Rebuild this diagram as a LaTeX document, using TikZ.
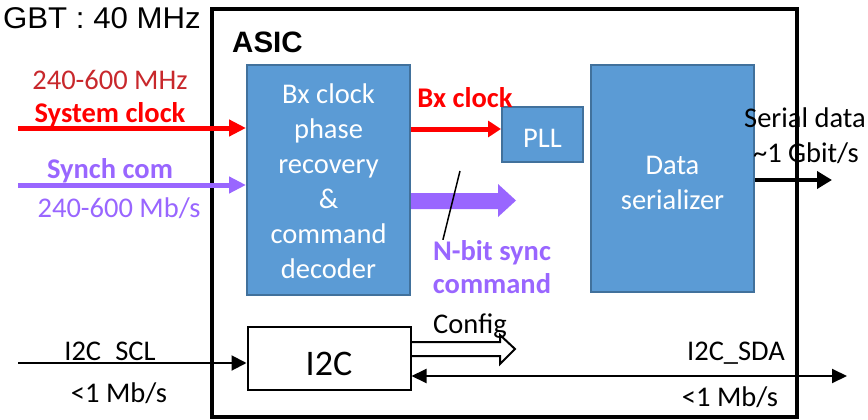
\documentclass[tikz,border=0pt]{standalone}
\usepackage{fontspec}
\setmainfont{Carlito}
\newfontfamily\arialfont{Liberation Sans}
\usetikzlibrary{arrows.meta}
\definecolor{blkfill}{HTML}{5B9BD5}
\definecolor{blkline}{HTML}{41719C}
\definecolor{sysred}{HTML}{FF0000}
\definecolor{darkred}{HTML}{C8282C}
\definecolor{purp}{HTML}{9966FF}
\begin{document}
\begin{tikzpicture}[x=1pt,y=-1pt,
  lbl/.style={inner sep=0pt, anchor=base, font=\fontsize{28.5}{34}\selectfont},
  lblb/.style={inner sep=0pt, anchor=base, font=\bfseries\fontsize{28.5}{34}\selectfont},
  blk/.style={draw=blkline, fill=blkfill, line width=2pt, inner sep=0pt},
  thickarr/.style={line width=5pt, -{Triangle[length=17pt,width=16pt]}},
  thinarr/.style={line width=2pt, -{Triangle[length=15pt,width=15pt]}},
]
\useasboundingbox (0,0) rectangle (868,420);
% ASIC frame
\node[draw, line width=4pt, minimum width=585pt, minimum height=408pt, inner sep=0pt] (asic) at (504.5,213) {};
% blocks
\node[blk, minimum width=163pt, minimum height=230pt] (rec) at (328.5,180) {};
\node[blk, minimum width=163pt, minimum height=227pt] (ser) at (672.5,178.5) {};
\node[blk, minimum width=81pt, minimum height=55pt] (pll) at (542.5,134.5) {};
\node[draw, line width=2pt, fill=white, minimum width=163pt, minimum height=63pt, inner sep=0pt] (i2c) at (329,358.5) {};
% block texts
\node[lbl, white] (rt1) at (328.5,103) {Bx clock};
\node[lbl, white] (rt2) at (328.5,138) {phase};
\node[lbl, white] (rt3) at (328.5,173) {recovery};
\node[lbl, white] (rt4) at (328.5,208) {\&};
\node[lbl, white] (rt5) at (328.5,243) {command};
\node[lbl, white] (rt6) at (328.5,278) {decoder};
\node[lbl, white] (sd1) at (672.5,174) {Data};
\node[lbl, white] (sd2) at (672.5,209) {serializer};
\node[lbl, white] (plltxt) at (pll.center |- 0,147) {PLL};
\node[inner sep=0pt, anchor=base, font=\fontsize{36}{40}\selectfont] (i2ct) at (329,375) {I2C};
% labels
\node[inner sep=0pt, anchor=base east, xscale=1.04, font=\arialfont\fontsize{30}{34}\selectfont] (gbt) at (201,28.5) {GBT : 40 MHz};
\node[inner sep=0pt, anchor=base west, font=\arialfont\bfseries\fontsize{29.5}{32}\selectfont] (asiclab) at (232,53) {ASIC};
\node[lbl, darkred] (f1) at (110,89) {240-600 MHz};
\node[lblb, sysred] (sclab) at (110,122) {System clock};
\node[lblb, purp] (synlab) at (110,178) {Synch com};
\node[lbl, purp] (f2) at (119,217) {240-600 Mb/s};
\node[lblb, sysred] (bxlab) at (465,107) {Bx clock};
\node[lblb, purp] (nb1) at (492,260) {N-bit sync};
\node[lblb, purp] (nb2) at (492,293) {command};
\node[lbl] (serl1) at (805,128) {Serial data};
\node[lbl] (serl2) at (806,162) {\char"7E 1 Gbit/s};
\node[lbl] (scl) at (110,360) {I2C\_SCL};
\node[lbl] (sclr) at (119,402) {<1 Mb/s};
\node[lbl] (sda) at (736,360) {I2C\_SDA};
\node[lbl] (sdar) at (730,406) {<1 Mb/s};
\node[lbl] (cfg) at (470,333) {Config};
% connectors
\coordinate (scin) at (18,128);
\draw[sysred, thickarr] (scin) -- (rec.west |- scin);
\coordinate (synin) at (18,185);
\draw[purp, thickarr] (synin) -- (rec.west |- synin);
\draw[sysred, line width=5pt, -{Triangle[length=13pt,width=16pt]}] (rec.east |- 0,129) -- (pll.west |- 0,129);
\fill[purp] (rec.east |- 0,193) -- (498,193) -- (498,184) -- (516,200.5) -- (498,217) -- (498,209) -- (rec.east |- 0,209) -- cycle;
\coordinate (callout) at (460,171);
\draw[line width=1.5pt] (callout) -- ([xshift=10pt]nb1.north west);
\coordinate (serout) at (832,180);
\draw[line width=4.5pt, -{Triangle[length=15pt,width=17pt]}] (ser.east |- serout) -- (serout);
\coordinate (sclin) at (18,363);
\draw[thinarr] (sclin) -- (i2c.west |- sclin);
\coordinate (sdaout) at (847,376);
\draw[line width=2pt, {Triangle[length=15pt,width=14pt]}-{Triangle[length=15pt,width=14pt]}] (i2c.east |- sdaout) -- (sdaout);
\draw[line width=2pt] (i2c.east |- 0,342) -- (500,342) -- (500,335) -- (515,349) -- (500,364) -- (500,356) -- (i2c.east |- 0,356);
\end{tikzpicture}
\end{document}
